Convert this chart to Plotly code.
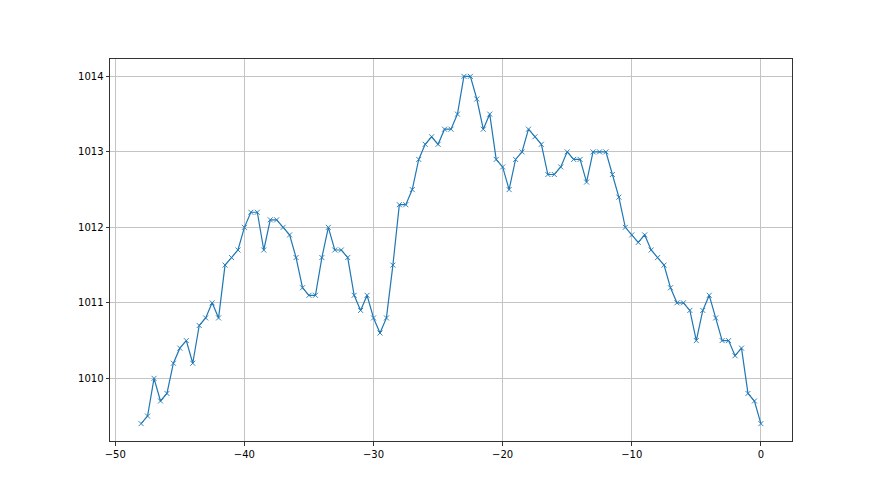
import plotly.graph_objects as go

x_vals = [-48, -47.5, -47, -46.5, -46, -45.5, -45, -44.5, -44, -43.5, -43, -42.5, -42, -41.5, -41, -40.5,
          -40, -39.5, -39, -38.5, -38, -37.5, -37, -36.5, -36, -35.5, -35, -34.5, -34, -33.5, -33, -32.5,
          -32, -31.5, -31, -30.5, -30, -29.5, -29, -28.5, -28, -27.5, -27, -26.5, -26, -25.5, -25, -24.5,
          -24, -23.5, -23, -22.5, -22, -21.5, -21, -20.5, -20, -19.5, -19, -18.5, -18, -17.5, -17, -16.5,
          -16, -15.5, -15, -14.5, -14, -13.5, -13, -12.5, -12, -11.5, -11, -10.5, -10, -9.5, -9, -8.5,
          -8, -7.5, -7, -6.5, -6, -5.5, -5, -4.5, -4, -3.5, -3, -2.5, -2, -1.5, -1, -0.5, 0]

pressure = [1009.4, 1009.5, 1010.0, 1009.7, 1009.8, 1010.2, 1010.4, 1010.5, 1010.2, 1010.7, 1010.8, 1011.0,
            1010.8, 1011.5, 1011.6, 1011.7,
            1012.0, 1012.2, 1012.2, 1011.7, 1012.1, 1012.1, 1012.0, 1011.9, 1011.6, 1011.2, 1011.1, 1011.1,
            1011.6, 1012.0, 1011.7, 1011.7,
            1011.6, 1011.1, 1010.9, 1011.1, 1010.8, 1010.6, 1010.8, 1011.5, 1012.3, 1012.3, 1012.5, 1012.9,
            1013.1, 1013.2, 1013.1, 1013.3,
            1013.3, 1013.5, 1014.0, 1014.0, 1013.7, 1013.3, 1013.5, 1012.9, 1012.8, 1012.5, 1012.9, 1013.0,
            1013.3, 1013.2, 1013.1, 1012.7,
            1012.7, 1012.8, 1013.0, 1012.9, 1012.9, 1012.6, 1013.0, 1013.0, 1013.0, 1012.7, 1012.4, 1012.0,
            1011.9, 1011.8, 1011.9, 1011.7,
            1011.6, 1011.5, 1011.2, 1011.0, 1011.0, 1010.9, 1010.5, 1010.9, 1011.1, 1010.8, 1010.5, 1010.5,
            1010.3, 1010.4, 1009.8, 1009.7, 1009.4]

x_ticks = [-50, -40, -30, -20, -10, 0]
y_ticks = [1010, 1011, 1012, 1013, 1014]

fig = go.Figure()
fig.add_trace(go.Scatter(
    x=x_vals, y=pressure, mode="lines+markers",
    line=dict(color="#1f77b4", width=1.2),
    marker=dict(symbol="x-thin", size=5, line=dict(color="#1f77b4", width=0.9)),
    showlegend=False,
))

axis_common = dict(
    showline=True, linecolor="#333333", linewidth=1, mirror=True,
    showgrid=True, gridcolor="#c4c4c4", gridwidth=1,
    ticks="outside", ticklen=3.5, tickwidth=0.8, tickcolor="#333333",
    zeroline=False, tickfont=dict(family="DejaVu Sans", size=10, color="black"),
)

fig.update_layout(
    width=880, height=495,
    margin=dict(l=102, r=96, t=51, b=62),
    paper_bgcolor="white", plot_bgcolor="white",
    xaxis=dict(range=[-50.41, 2.41], tickvals=x_ticks, **axis_common),
    yaxis=dict(range=[1009.17, 1014.23], tickvals=y_ticks, **axis_common),
)

fig.write_html("out.html")
